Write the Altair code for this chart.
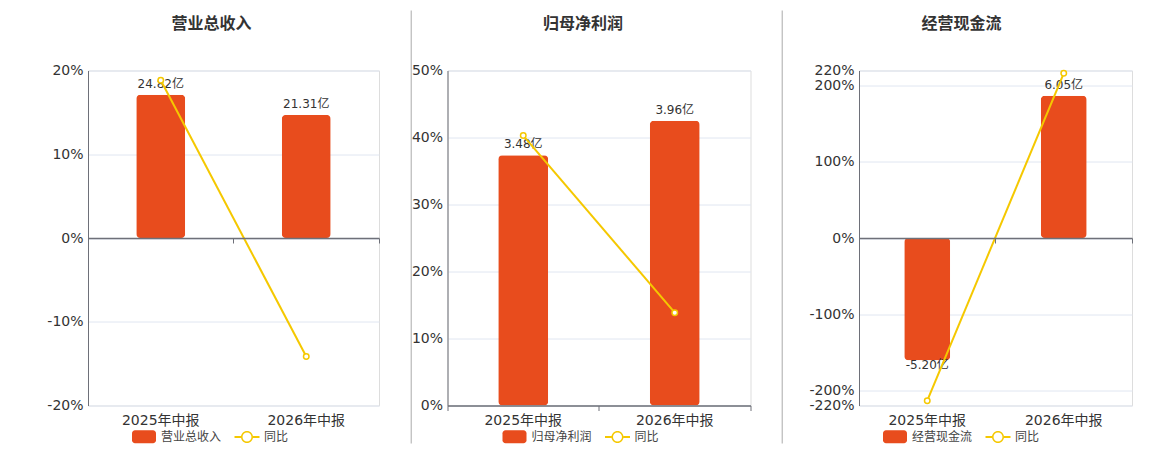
import altair as alt
import pandas as pd

# ---- data ----
periods = ["2025年中报", "2026年中报"]
revenue = [24.82, 21.31]
revenue_yoy = [18.83, -14.14]
profit = [3.48, 3.96]
profit_yoy = [40.29, 13.85]
cashflow = [-5.20, 6.05]
cashflow_yoy = [-213.7, 216.3]

series_names = ["营业总收入", "归母净利润", "经营现金流"]
yoy_name = "同比"

BAR = "#E84C1D"
LINE = "#F5C800"
FONT = "DejaVu Sans, Noto Sans CJK SC, sans-serif"
H = 335

RECT = ("M-0.9,-0.65 L0.9,-0.65 A0.3,0.3 0 0 1 1.2,-0.35 L1.2,0.35 "
        "A0.3,0.3 0 0 1 0.9,0.65 L-0.9,0.65 A0.3,0.3 0 0 1 -1.2,0.35 "
        "L-1.2,-0.35 A0.3,0.3 0 0 1 -0.9,-0.65 Z")
RING = ("M-1.25,-0.1 L-0.6,-0.1 L-0.6,0.1 L-1.25,0.1 Z "
        "M0.6,-0.1 L1.25,-0.1 L1.25,0.1 L0.6,0.1 Z "
        "M0.6,0 A0.6,0.6 0 1 1 -0.6,0 A0.6,0.6 0 1 1 0.6,0 Z "
        "M0.45,0 A0.45,0.45 0 1 0 -0.45,0 A0.45,0.45 0 1 0 0.45,0 Z")


def panel(name, values, yoy, ydom, yticks, bdom, width, barw, legx, sep_x,
          sep_opacity, title_dx):
    df = pd.DataFrame({
        "period": periods,
        "value": values,
        "yoy": yoy,
        "label": [f"{v:.2f}亿" for v in values],
    })
    zero_off = -H * (0 - ydom[0]) / (ydom[1] - ydom[0])
    xscale = alt.Scale(domain=periods, paddingInner=0, paddingOuter=0)
    yscale = alt.Scale(domain=ydom, nice=False, zero=False)
    bscale = alt.Scale(domain=bdom, nice=False, zero=False)
    base = alt.Chart(df)

    bars = base.mark_bar(color=BAR, width=barw, cornerRadius=4).encode(
        x=alt.X("period:N", scale=xscale, title=None,
                axis=alt.Axis(orient="bottom", domain=False, ticks=False, grid=False,
                              labelAngle=0, labelFontSize=14, labelColor="#333",
                              labelFont=FONT, labelPadding=8)),
        y=alt.Y("value:Q", scale=bscale, axis=None),
    )
    tpos = base.transform_filter("datum.value >= 0").mark_text(
        baseline="bottom", dy=-4, fontSize=12, color="#333", font=FONT
    ).encode(
        x=alt.X("period:N", scale=xscale, axis=None),
        y=alt.Y("value:Q", scale=bscale, axis=None),
        text="label:N",
    )
    tneg = base.transform_filter("datum.value < 0").mark_text(
        baseline="top", dy=0, fontSize=12, color="#333", font=FONT
    ).encode(
        x=alt.X("period:N", scale=xscale, axis=None),
        y=alt.Y("value:Q", scale=bscale, axis=None),
        text="label:N",
    )
    line = base.mark_line(color=LINE, strokeWidth=2).encode(
        x=alt.X("period:N", scale=xscale, title=None,
                axis=alt.Axis(orient="bottom", labels=False, domain=True,
                              domainColor="#6E7079", domainWidth=1.5, ticks=True,
                              tickColor="#6E7079", tickSize=5, bandPosition=1,
                              tickExtra=True, offset=zero_off, grid=False, zindex=1)),
        y=alt.Y("yoy:Q", scale=yscale,
                axis=alt.Axis(orient="left", values=yticks,
                              labelExpr="datum.value + '%'", title=None,
                              domain=True, domainColor="#6E7079", ticks=False,
                              grid=True, gridColor="#E0E6F1", labelFontSize=14,
                              labelColor="#333", labelFont=FONT, labelPadding=5)),
    )
    pts = base.mark_point(filled=True, fill="white", stroke=LINE, strokeWidth=1.5,
                          size=30, opacity=1).encode(
        x=alt.X("period:N", scale=xscale, axis=None),
        y=alt.Y("yoy:Q", scale=yscale, axis=None),
    )
    legend_props = dict(orient="none", legendX=legx, legendY=356, direction="horizontal",
                        title=None, symbolSize=400, symbolStrokeWidth=0,
                        symbolOpacity=1, labelFontSize=12, labelColor="#444",
                        labelFont=FONT, labelOffset=7, columnPadding=12, padding=0)
    leg = alt.Chart(pd.DataFrame({"series": [name, yoy_name]})).transform_filter(
        "false").mark_point(filled=True, opacity=1).encode(
        color=alt.Color("series:N",
                        scale=alt.Scale(domain=[name, yoy_name], range=[BAR, LINE]),
                        legend=alt.Legend(**legend_props)),
        shape=alt.Shape("series:N",
                        scale=alt.Scale(domain=[name, yoy_name], range=[RECT, RING]),
                        legend=alt.Legend(**legend_props)),
    )
    sep = alt.Chart(pd.DataFrame({"s": [0]})).mark_rule(
        color="#AAAAAA", strokeWidth=1, strokeOpacity=sep_opacity).encode(
        x=alt.value(sep_x), y=alt.value(-60), y2=alt.value(373))
    layers = [sep, bars, tpos, tneg, line, pts, leg]
    return alt.layer(*layers).resolve_scale(y="independent").resolve_axis(
        x="independent", y="independent").properties(
        width=width, height=H,
        title=alt.TitleParams(name, fontSize=16, fontWeight="bold", color="#333",
                              font=FONT, anchor="middle", offset=-21.5, dx=title_dx),
    )


p1 = panel(series_names[0], revenue, revenue_yoy, [-20, 20], [-20, -10, 0, 10, 20],
           [-29, 29], 291, 49, 46, 0, 0, -22)
p2 = panel(series_names[1], profit, profit_yoy, [0, 50], [0, 10, 20, 30, 40, 50],
           [0, 4.66], 303, 50, 57, -36.3, 1, -16)
p3 = panel(series_names[2], cashflow, cashflow_yoy, [-220, 220],
           [-220, -200, -100, 0, 100, 200, 220], [-7.13, 7.13], 273, 46, 26, -76.8, 1,
           -34)

chart = alt.hconcat(p1, p2, p3, spacing=29.5).resolve_scale(
    color="independent", shape="independent").properties(
    padding={"left": 38, "top": 1.5, "right": 5, "bottom": 5}
).configure_view(strokeWidth=0).configure(font=FONT, background="white")

chart.save("out.html", embed_options={"renderer": "svg", "actions": False})
